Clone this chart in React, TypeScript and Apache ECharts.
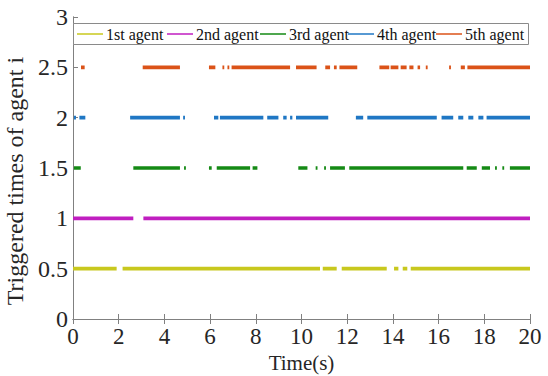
import React, { useEffect, useRef } from "react";
import * as echarts from "echarts";

// Trigger intervals [start, end] (s) for each agent
const agentNames = ["1st agent", "2nd agent", "3rd agent", "4th agent", "5th agent"];
const agentLevels = [0.5, 1, 1.5, 2, 2.5];
const agentColors = ["#C8C81E", "#C01EC0", "#158A15", "#1F77C4", "#DB5318"];

const agent1 = [[0, 1.91], [2.17, 10.81], [10.93, 11.54], [11.76, 13.73], [14.05, 14.24], [14.43, 14.63], [14.78, 20]];
const agent2 = [[0, 2.64], [3.08, 20]];
const agent3 = [[0.04, 0.34], [2.64, 4.68], [4.86, 4.94], [5.95, 6.07], [6.29, 7.75], [7.86, 8.07], [9.86, 10.26], [10.62, 10.7], [10.99, 11.07], [11.25, 11.9], [12.09, 17.08], [17.23, 17.67], [17.89, 18.25], [18.47, 18.55], [18.79, 18.87], [19.12, 20]];
const agent4 = [[0.04, 0.13], [0.28, 0.54], [2.5, 4.68], [4.82, 4.9], [6.17, 6.36], [6.43, 8.33], [8.5, 8.99], [9.2, 9.35], [9.5, 9.6], [9.76, 11.17], [12.38, 12.7], [12.88, 15.92], [16.13, 16.64], [16.86, 17.08], [17.3, 17.52], [17.74, 17.96], [18.1, 20]];
const agent5 = [[0.35, 0.51], [3.05, 4.68], [5.95, 6.23], [6.54, 6.62], [6.76, 6.84], [6.94, 9.5], [9.76, 10.66], [11.04, 11.25], [11.42, 11.54], [11.66, 12.44], [13.41, 13.84], [13.9, 14.24], [14.34, 14.6], [14.72, 14.9], [15.08, 15.19], [15.44, 15.52], [16.46, 16.54], [16.97, 17.15], [17.26, 20]];
const agentIntervals = [agent1, agent2, agent3, agent4, agent5];

const xTicks = { min: 0, max: 20, interval: 2 };
const yTicks = { min: 0, max: 3, interval: 0.5 };

const FONT = "'Liberation Serif', 'Times New Roman', serif";

// legend layout (pixels): start of each legend sample line
const legendItemX = [77, 167, 260, 348, 436];

export default function App() {
  const ref = useRef<HTMLDivElement>(null);
  useEffect(() => {
    if (!ref.current) return;
    const chart = echarts.init(ref.current, null, { renderer: "svg" });
    const series = agentNames.map((name, i) => {
      const data: any[] = [];
      agentIntervals[i].forEach(([s, e]) => {
        data.push([s, agentLevels[i]]);
        data.push([e, agentLevels[i]]);
        data.push([e, "-"]);
      });
      return {
        name,
        type: "line",
        data,
        symbol: "none",
        connectNulls: false,
        lineStyle: { color: agentColors[i], width: 3.6, cap: "butt" },
        itemStyle: { color: agentColors[i] },
        xAxisIndex: 0,
        yAxisIndex: 0,
      };
    });
    const legendY = 34;
    const legendGraphics: any[] = [
      {
        type: "rect",
        shape: { x: 73.5, y: 23.5, width: 455, height: 21 },
        style: { fill: "#fff", stroke: "#8a8a8a", lineWidth: 1 },
        z: 10,
      },
    ];
    agentNames.forEach((name, i) => {
      const x0 = legendItemX[i];
      legendGraphics.push({
        type: "line",
        shape: { x1: x0, y1: legendY, x2: x0 + 26, y2: legendY },
        style: { stroke: agentColors[i], lineWidth: 1.5 },
        z: 11,
      });
      legendGraphics.push({
        type: "text",
        x: x0 + 29,
        y: legendY,
        style: {
          text: name,
          fill: "#111",
          font: `16px ${FONT}`,
          verticalAlign: "middle",
        },
        z: 11,
      });
    });
    const axisColor = "#808080";
    const textColor = "#262626";
    chart.setOption({
      animation: false,
      backgroundColor: "#fff",
      textStyle: { fontFamily: FONT },
      grid: { left: 73, right: 18, top: 17, bottom: 57, containLabel: false, outerBoundsMode: "none" },
      graphic: legendGraphics,
      xAxis: [
        {
          type: "value",
          min: xTicks.min,
          max: xTicks.max,
          interval: xTicks.interval,
          name: "Time(s)",
          nameLocation: "middle",
          nameGap: 32,
          nameTextStyle: { fontFamily: FONT, fontSize: 21, color: textColor },
          axisLine: { show: true, lineStyle: { color: axisColor, width: 1 } },
          axisTick: { show: true, inside: true, length: 5, lineStyle: { color: axisColor } },
          axisLabel: { fontFamily: FONT, fontSize: 23, color: textColor, margin: 6 },
          splitLine: { show: false },
        },
        {
          type: "value",
          position: "top",
          min: xTicks.min,
          max: xTicks.max,
          interval: xTicks.interval,
          axisLine: { show: true, lineStyle: { color: axisColor, width: 1 } },
          axisTick: { show: true, inside: true, length: 5, lineStyle: { color: axisColor } },
          axisLabel: { show: false },
          splitLine: { show: false },
        },
      ],
      yAxis: [
        {
          type: "value",
          min: yTicks.min,
          max: yTicks.max,
          interval: yTicks.interval,
          name: "Triggered times of agent i",
          nameLocation: "middle",
          nameGap: 42,
          nameTextStyle: { fontFamily: FONT, fontSize: 24, color: textColor, padding: [0, 26, 0, 0] },
          axisLine: { show: true, lineStyle: { color: axisColor, width: 1 } },
          axisTick: { show: true, inside: true, length: 5, lineStyle: { color: axisColor } },
          axisLabel: { fontFamily: FONT, fontSize: 24, color: textColor, margin: 5 },
          splitLine: { show: false },
        },
        {
          type: "value",
          position: "right",
          min: yTicks.min,
          max: yTicks.max,
          interval: yTicks.interval,
          axisLine: { show: true, lineStyle: { color: axisColor, width: 1 } },
          axisTick: { show: false },
          axisLabel: { show: false },
          splitLine: { show: false },
        },
      ],
      series,
    });
    return () => chart.dispose();
  }, []);
  return <div ref={ref} style={{ width: 548, height: 376, position: "absolute", left: 0, top: 0 }} />;
}
